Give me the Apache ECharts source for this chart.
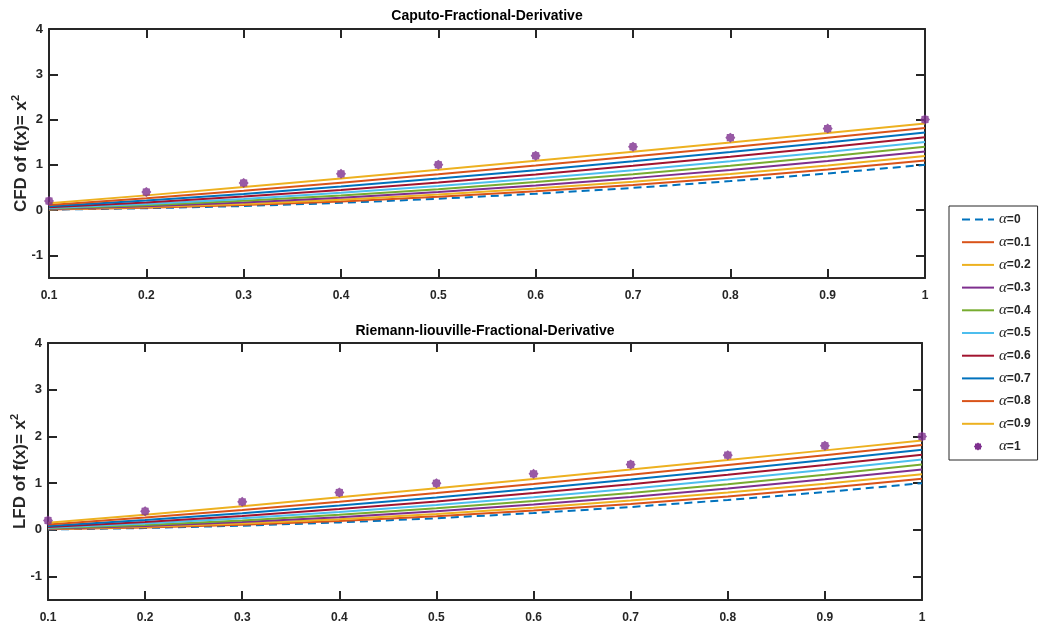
<!DOCTYPE html>
<html><head><meta charset="utf-8">
<script src="https://cdn.jsdelivr.net/npm/echarts@6/dist/echarts.min.js"></script>
<style>html,body{margin:0;padding:0;background:#fff}#c{width:1040px;height:631px}</style>
</head><body><div id="c"></div>
<script>
// x sample points
const xValues = [0.1, 0.2, 0.3, 0.4, 0.5, 0.6, 0.7, 0.8, 0.9, 1.0];
// series values (both panels show the same curves)
const alpha00 = [0.010, 0.040, 0.090, 0.160, 0.250, 0.360, 0.490, 0.640, 0.810, 1.000];
const alpha01 = [0.014, 0.051, 0.111, 0.192, 0.293, 0.415, 0.556, 0.716, 0.896, 1.095];
const alpha02 = [0.019, 0.066, 0.137, 0.229, 0.343, 0.476, 0.628, 0.798, 0.987, 1.193];
const alpha03 = [0.026, 0.084, 0.167, 0.273, 0.399, 0.543, 0.706, 0.886, 1.083, 1.295];
const alpha04 = [0.035, 0.107, 0.204, 0.323, 0.462, 0.618, 0.791, 0.979, 1.182, 1.399];
const alpha05 = [0.048, 0.135, 0.247, 0.381, 0.532, 0.699, 0.881, 1.077, 1.285, 1.505];
const alpha06 = [0.064, 0.169, 0.298, 0.446, 0.610, 0.788, 0.977, 1.178, 1.389, 1.610];
const alpha07 = [0.086, 0.212, 0.358, 0.521, 0.696, 0.882, 1.078, 1.283, 1.495, 1.714];
const alpha08 = [0.115, 0.263, 0.428, 0.605, 0.790, 0.983, 1.183, 1.389, 1.600, 1.815];
const alpha09 = [0.152, 0.325, 0.508, 0.698, 0.892, 1.090, 1.291, 1.495, 1.702, 1.911];
const alpha10 = [0.2, 0.4, 0.6, 0.8, 1.0, 1.2, 1.4, 1.6, 1.8, 2.0];

const seriesNames = ['α=0','α=0.1','α=0.2','α=0.3','α=0.4','α=0.5','α=0.6','α=0.7','α=0.8','α=0.9','α=1'];
const seriesValues = [alpha00, alpha01, alpha02, alpha03, alpha04, alpha05, alpha06, alpha07, alpha08, alpha09, alpha10];
const seriesColors = ['#0072BD','#D95319','#EDB120','#7E2F8E','#77AC30','#4DBEEE','#A2142F','#0072BD','#D95319','#EDB120','#7E2F8E'];
const panelTitles = ['Caputo-Fractional-Derivative', 'Riemann-liouville-Fractional-Derivative'];
const panelYNames = ['CFD of f(x)= x', 'LFD of f(x)= x'];

const starPath = 'path://M20 10 L17.39 13.06 L17.07 17.07 L13.06 17.39 L10 20 L6.94 17.39 L2.93 17.07 L2.61 13.06 L0 10 L2.61 6.94 L2.93 2.93 L6.94 2.61 L10 0 L13.06 2.61 L17.07 2.93 L17.39 6.94 Z';
const starIcon = 'path://M0 0 L0.01 0 L0 0.01 Z M34 34 L33.99 34 L34 33.99 Z M27 17 L24.39 20.06 L24.07 24.07 L20.06 24.39 L17 27 L13.94 24.39 L9.93 24.07 L9.61 20.06 L7 17 L9.61 13.94 L9.93 9.93 L13.94 9.61 L17 7 L20.06 9.61 L24.07 9.93 L24.39 13.94 Z';

const AX = '#262626';
const FONT = 'Liberation Sans';
const grids = [
  {left: 49, top: 29, width: 876, height: 249, containLabel: false, outerBoundsMode: 'none'},
  {left: 48, top: 343, width: 874, height: 257, containLabel: false, outerBoundsMode: 'none'}
];

const xAxes = [], yAxes = [], series = [];
grids.forEach((g, gi) => {
  const base = {
    gridIndex: gi, type: 'value', min: 0.1, max: 1, interval: 0.1,
    axisLine: {show: true, onZero: false, lineStyle: {color: AX, width: 2}},
    axisTick: {show: true, inside: true, length: 9, lineStyle: {color: AX, width: 2}},
    splitLine: {show: false}
  };
  xAxes.push(Object.assign({}, base, {
    position: 'bottom',
    axisLabel: {show: true, margin: 12, color: AX, fontFamily: FONT, fontWeight: 'bold', fontSize: 12,
      formatter: v => String(Math.round(v * 10) / 10)}
  }));
  xAxes.push(Object.assign({}, base, {position: 'top', axisLabel: {show: false}}));
  const ybase = {
    gridIndex: gi, type: 'value', min: -1.5, max: 4,
    axisLine: {show: true, onZero: false, lineStyle: {color: AX, width: 2}},
    axisTick: {show: true, inside: true, length: 9, lineStyle: {color: AX, width: 2}},
    splitLine: {show: false}
  };
  yAxes.push(Object.assign({}, ybase, {
    position: 'left',
    name: '{t|' + panelYNames[gi] + '}{s|2}',
    nameLocation: 'middle', nameGap: 17, nameRotate: 90, nameMoveOverlap: false,
    nameTextStyle: {rich: {
      t: {fontFamily: FONT, fontWeight: 'bold', fontSize: 17, color: AX, lineHeight: 22, verticalAlign: 'middle'},
      s: {fontFamily: FONT, fontWeight: 'bold', fontSize: 11, color: AX, lineHeight: 11, verticalAlign: 'top'}
    }},
    axisLabel: {show: true, margin: 6, color: AX, fontFamily: FONT, fontWeight: 'bold', fontSize: 13,
      formatter: v => Number.isInteger(v) ? String(v) : ''}
  }));
  yAxes.push(Object.assign({}, ybase, {position: 'right', axisLabel: {show: false}}));

  seriesNames.forEach((name, si) => {
    const data = xValues.map((x, i) => [x, seriesValues[si][i]]);
    if (si === seriesNames.length - 1) {
      series.push({
        name, type: 'scatter', xAxisIndex: gi * 2, yAxisIndex: gi * 2, data,
        symbol: starPath, symbolSize: 10, clip: false,
        itemStyle: {color: seriesColors[si]}, z: 5
      });
    } else {
      series.push({
        name, type: 'line', xAxisIndex: gi * 2, yAxisIndex: gi * 2, data,
        showSymbol: false, symbol: 'none', smooth: false,
        lineStyle: {color: seriesColors[si], width: 2, type: si === 0 ? [8, 5] : 'solid'},
        itemStyle: {color: seriesColors[si], opacity: 0}, z: 2 + si * 0.01
      });
    }
  });
});

const chart = echarts.init(document.getElementById('c'), null, {renderer: 'canvas'});
chart.setOption({
  animation: false,
  backgroundColor: '#ffffff',
  grid: grids,
  xAxis: xAxes,
  yAxis: yAxes,
  graphic: panelTitles.map((t, i) => ({
    type: 'text',
    x: grids[i].left + grids[i].width / 2,
    y: i === 0 ? 16 : 331,
    style: {text: t, align: 'center', verticalAlign: 'middle',
      font: 'bold 14px "Liberation Sans"', fill: '#000'}
  })),
  legend: {
    orient: 'vertical', left: 949, top: 206,
    padding: [6, 7, 6, 12], itemWidth: 32, itemHeight: 14, itemGap: 7.7,
    borderColor: AX, borderWidth: 1, backgroundColor: '#fff',
    selectedMode: false,
    formatter: n => '{a|α}{b|' + n.slice(1) + '}',
    textStyle: {rich: {
      a: {fontFamily: 'Liberation Serif', fontStyle: 'italic', fontSize: 15, color: AX},
      b: {fontFamily: FONT, fontWeight: 'bold', fontSize: 12, color: AX}
    }},
    data: seriesNames.map((n, i) => i === seriesNames.length - 1
      ? {name: n, icon: starIcon, itemStyle: {opacity: 1}}
      : {name: n, itemStyle: {opacity: 0}})
  },
  series
});
</script>
</body></html>
